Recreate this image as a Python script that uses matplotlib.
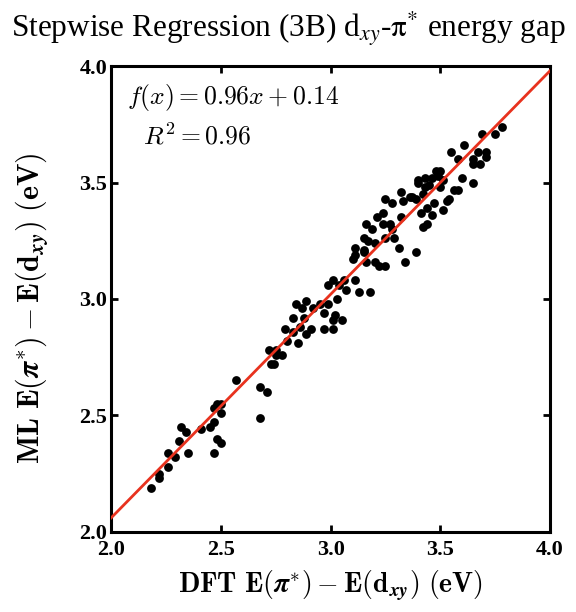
import matplotlib
matplotlib.use("Agg")
import matplotlib.pyplot as plt
import numpy as np

# valores DFT (x) y ML (y)
dft = [2.18, 2.22, 2.22, 2.26, 2.29, 2.26, 2.31, 2.35, 2.32, 2.34,
       2.41, 2.45, 2.47, 2.48, 2.50, 2.47, 2.47, 2.48, 2.50, 2.50,
       2.57, 2.68, 2.71, 2.68, 2.73, 2.74, 2.72, 2.75, 2.78, 2.75,
       2.80, 2.85, 2.79, 2.83, 2.86, 2.89, 2.91, 2.83, 2.88, 2.87,
       2.84, 2.89, 2.92, 2.95, 2.97, 2.97, 3.01, 3.01, 3.02, 3.05,
       3.03, 2.99, 2.99, 3.01, 3.04, 3.06, 3.07, 3.11, 3.13, 3.18,
       3.10, 3.11, 3.15, 3.16, 3.20, 3.22, 3.25, 3.11, 3.15, 3.15,
       3.17, 3.20, 3.19, 3.16, 3.21, 3.24, 3.24, 3.27, 3.28, 3.25,
       3.29, 3.31, 3.34, 3.39, 3.25, 3.28, 3.32, 3.33, 3.36, 3.37,
       3.32, 3.39, 3.41, 3.42, 3.44, 3.44, 3.46, 3.47, 3.42, 3.43,
       3.40, 3.45, 3.51, 3.53, 3.40, 3.43, 3.46, 3.48, 3.50, 3.49,
       3.51, 3.50, 3.54, 3.56, 3.58, 3.60, 3.65, 3.55, 3.58, 3.61,
       3.65, 3.65, 3.68, 3.67, 3.71, 3.71, 3.69, 3.75, 3.78]
ml = [2.19, 2.23, 2.25, 2.28, 2.32, 2.34, 2.39, 2.34, 2.45, 2.43,
      2.44, 2.45, 2.47, 2.40, 2.38, 2.34, 2.53, 2.55, 2.55, 2.51,
      2.65, 2.62, 2.60, 2.49, 2.72, 2.72, 2.78, 2.78, 2.76, 2.76,
      2.82, 2.81, 2.87, 2.86, 2.88, 2.85, 2.87, 2.92, 2.92, 2.96,
      2.98, 2.99, 2.96, 2.98, 2.94, 2.87, 2.87, 2.91, 2.93, 2.91,
      3.00, 2.98, 3.06, 3.08, 3.06, 3.08, 3.04, 3.08, 3.03, 3.03,
      3.17, 3.19, 3.21, 3.16, 3.16, 3.14, 3.14, 3.22, 3.20, 3.26,
      3.25, 3.24, 3.30, 3.32, 3.35, 3.37, 3.32, 3.32, 3.30, 3.26,
      3.26, 3.22, 3.16, 3.20, 3.43, 3.41, 3.46, 3.42, 3.44, 3.44,
      3.35, 3.43, 3.37, 3.31, 3.32, 3.39, 3.36, 3.41, 3.45, 3.48,
      3.50, 3.49, 3.38, 3.42, 3.51, 3.52, 3.52, 3.55, 3.55, 3.53,
      3.51, 3.48, 3.43, 3.47, 3.47, 3.52, 3.50, 3.63, 3.60, 3.66,
      3.60, 3.58, 3.58, 3.63, 3.63, 3.61, 3.71, 3.71, 3.74]

pendiente = 0.96
intercepto = 0.14
r2 = 0.96
ticks = [2.0, 2.5, 3.0, 3.5, 4.0]

plt.rcParams['mathtext.fontset'] = 'cm'

fig = plt.figure(figsize=(5.76, 6.12), dpi=100)
ax = fig.add_axes([0.193, 0.131, 0.762, 0.761])

ax.scatter(dft, ml, s=40, color='black', zorder=3, linewidths=0)

# recta de ajuste
xs = np.array([2.0, 4.0])
ax.plot(xs, pendiente * xs + intercepto, color='#e8321e', lw=2, zorder=4)

ax.set_xlim(2.0, 4.0)
ax.set_ylim(2.0, 4.0)
ax.set_xticks(ticks)
ax.set_yticks(ticks)
ax.set_xticklabels(['%.1f' % t for t in ticks])
ax.set_yticklabels(['%.1f' % t for t in ticks])
for lab in ax.get_xticklabels() + ax.get_yticklabels():
    lab.set_family('Liberation Serif')
    lab.set_fontweight('bold')
ax.tick_params(direction='in', top=True, right=True, length=5, width=2,
               labelsize=16, pad=3)
ax.tick_params(axis='x', pad=6)
for sp in ax.spines.values():
    sp.set_linewidth(2.2)

ax.set_xlabel(r'$\mathbf{DFT\ E(}\boldsymbol{\pi}^{\mathbf{*}}\mathbf{)}-\mathbf{E(d}_{\boldsymbol{xy}}\mathbf{)\ (eV)}$',
              fontsize=20, labelpad=6)
ax.set_ylabel(r'$\mathbf{ML\ E(}\boldsymbol{\pi}^{\mathbf{*}}\mathbf{)}-\mathbf{E(d}_{\boldsymbol{xy}}\mathbf{)\ (eV)}$',
              fontsize=21.5)
ax.yaxis.set_label_coords(-0.14, 0.48)

ax.text(0.036, 0.933, r'$f(x) = %.2fx + %.2f$' % (pendiente, intercepto),
        transform=ax.transAxes, fontsize=18.5, va='center')
ax.text(0.073, 0.848, r'$R^2 = %.2f$' % r2,
        transform=ax.transAxes, fontsize=18.5, va='center')

fig.text(0.5, 0.952, r'Stepwise Regression (3B) d$_{xy}$-$\mathrm{\pi}^{*}$ energy gap',
         ha='center', va='center', fontsize=22.5, family='Liberation Serif',
         math_fontfamily='stix')

fig.savefig('out.png', dpi=100)
